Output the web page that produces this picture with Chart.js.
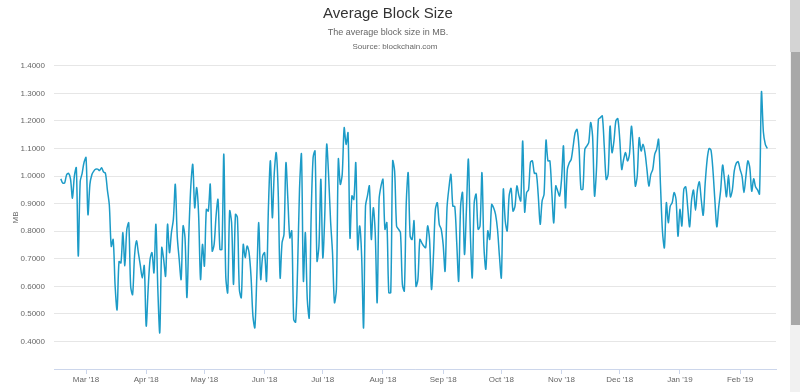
<!DOCTYPE html>
<html>
<head>
<meta charset="utf-8">
<title>Average Block Size</title>
<script src="https://cdn.jsdelivr.net/npm/chart.js@4.4.1/dist/chart.umd.min.js"></script>
<style>
  html, body { margin: 0; padding: 0; background: #fff; overflow: hidden; }
  #wrap { position: relative; width: 800px; height: 392px; }
  #chartBox { position: absolute; left: 0; top: 0; width: 790px; height: 392px; }
  #scrollTrack { position: absolute; left: 790px; top: 0; width: 10px; height: 392px; background: #f1f1f1; }
  #scrollTop { position: absolute; left: 0; top: 0; width: 10px; height: 52px; background: #d4d4d4; }
  #scrollThumb { position: absolute; left: 1px; top: 52px; width: 9px; height: 273px; background: #a8a8a8; }
</style>
</head>
<body>
<div id="wrap">
  <div id="chartBox"><canvas id="blockChart" width="790" height="392"></canvas></div>
  <div id="scrollTrack"><div id="scrollTop"></div><div id="scrollThumb"></div></div>
</div>
<script>
// daily values, first day 16 Feb 2018
const startDate = Date.UTC(2018, 1, 16);

const tickLabels = ["Mar '18", "Apr '18", "May '18", "Jun '18", "Jul '18", "Aug '18",
                    "Sep '18", "Oct '18", "Nov '18", "Dec '18", "Jan '19", "Feb '19"];

// average block size in MB
const avgBlockSize = [
  0.990, 0.975, 0.975, 1.005, 1.010, 0.990, 0.920, 1.000, 1.030, 0.710,
  0.980, 1.010, 1.050, 1.067, 0.860, 0.970, 1.005, 1.018, 1.025, 1.025,
  1.020, 1.030, 1.015, 1.010, 0.950, 0.895, 0.745, 0.770, 0.600, 0.515,
  0.690, 0.685, 0.795, 0.675, 0.805, 0.830, 0.600, 0.570, 0.710, 0.765,
  0.720, 0.675, 0.630, 0.675, 0.456, 0.589, 0.698, 0.722, 0.649, 0.825,
  0.589, 0.432, 0.740, 0.698, 0.637, 0.825, 0.722, 0.795, 0.843, 0.970,
  0.782, 0.698, 0.625, 0.819, 0.776, 0.559, 0.795, 0.964, 1.042, 0.885,
  0.958, 0.861, 0.625, 0.752, 0.674, 0.879, 0.873, 0.970, 0.728, 0.752,
  0.855, 0.915, 0.734, 0.734, 1.079, 0.637, 0.577, 0.873, 0.831, 0.607,
  0.861, 0.849, 0.589, 0.559, 0.752, 0.704, 0.746, 0.722, 0.637, 0.492,
  0.450, 0.637, 0.831, 0.625, 0.710, 0.722, 0.619, 0.891, 1.055, 0.849,
  1.012, 1.085, 0.946, 0.631, 0.758, 0.789, 1.048, 0.915, 0.776, 0.801,
  0.480, 0.470, 0.662, 0.952, 1.079, 0.619, 0.795, 0.553, 0.486, 0.855,
  1.067, 1.091, 0.692, 0.746, 0.988, 0.704, 0.855, 1.115, 1.000, 0.837,
  0.722, 0.541, 0.589, 1.061, 0.970, 1.006, 1.175, 1.115, 1.157, 0.776,
  0.928, 0.915, 1.048, 0.734, 0.819, 0.710, 0.450, 0.891, 0.928, 0.964,
  0.770, 0.885, 0.795, 0.541, 0.915, 0.964, 0.988, 0.807, 0.831, 0.577,
  0.577, 1.055, 1.018, 0.819, 0.807, 0.795, 0.607, 0.583, 0.903, 1.012,
  0.782, 0.770, 0.837, 0.600, 0.625, 0.770, 0.758, 0.746, 0.740, 0.819,
  0.770, 0.589, 0.710, 0.879, 0.903, 0.825, 0.807, 0.752, 0.655, 0.885,
  0.958, 1.006, 0.891, 0.889, 0.758, 0.619, 0.891, 0.940, 0.716, 0.879,
  1.061, 0.795, 0.631, 0.903, 0.934, 0.807, 0.819, 1.012, 0.746, 0.662,
  0.801, 0.770, 0.897, 0.885, 0.861, 0.807, 0.710, 0.631, 0.952, 0.837,
  0.801, 0.928, 0.955, 0.873, 0.890, 0.964, 0.930, 0.910, 1.127, 0.870,
  0.940, 0.950, 1.050, 1.055, 1.010, 1.010, 0.930, 0.825, 0.910, 0.934,
  1.130, 1.055, 1.055, 0.940, 0.830, 0.964, 0.946, 0.928, 0.988, 1.109,
  0.885, 1.024, 1.048, 1.061, 1.109, 1.157, 1.169, 1.103, 0.952, 0.952,
  1.097, 1.109, 1.121, 1.194, 1.145, 0.928, 1.024, 1.206, 1.212, 1.218,
  1.109, 0.988, 1.006, 1.181, 1.085, 1.127, 1.200, 1.208, 1.133, 1.024,
  1.061, 1.085, 1.055, 1.079, 1.181, 1.097, 0.964, 1.000, 1.139, 1.091,
  1.115, 1.085, 1.024, 0.964, 1.006, 1.024, 1.079, 1.097, 1.133, 0.964,
  0.800, 0.740, 0.903, 0.831, 0.891, 0.903, 0.940, 0.915, 0.782, 0.879,
  0.819, 0.952, 0.961, 0.888, 0.816, 0.913, 0.949, 0.876, 0.949, 0.979,
  0.913, 0.858, 0.973, 1.058, 1.100, 1.094, 1.022, 0.913, 0.816, 0.888,
  0.950, 1.040, 0.985, 0.925, 1.004, 0.925, 0.949, 1.019, 1.046, 1.052,
  1.024, 1.000, 0.940, 1.000, 1.055, 1.030, 0.945, 0.990, 0.960, 0.950,
  0.935, 1.305, 1.160, 1.115, 1.100
];

const fontFamily = "'Liberation Sans', Arial, sans-serif";

// first day of each month gets an x tick
const monthStarts = [];
avgBlockSize.forEach((_, i) => {
    const d = new Date(startDate + i * 86400000);
    if (d.getUTCDate() === 1) monthStarts.push(i);
});

const points = avgBlockSize.map((v, i) => ({ x: i, y: v }));

const sourceLine = {
    id: 'sourceLine',
    afterDraw(chart) {
        const c = chart.ctx;
        c.save();
        c.font = '8px ' + fontFamily;
        c.fillStyle = '#666666';
        c.textAlign = 'center';
        c.textBaseline = 'middle';
        c.fillText('Source: blockchain.com', chart.width / 2, 47);
        c.restore();
    }
};

const ctx = document.getElementById('blockChart').getContext('2d');
new Chart(ctx, {
    type: 'line',
    data: {
        datasets: [{
            label: 'Average Block Size',
            data: points,
            borderColor: '#1c9bc7',
            borderWidth: 1.5,
            pointRadius: 0,
            tension: 0.3,
            fill: false
        }]
    },
    options: {
        responsive: false,
        animation: false,
        layout: { padding: { left: 0, right: 14, top: 0, bottom: 0 } },
        plugins: {
            legend: { display: false },
            tooltip: { enabled: false },
            title: {
                display: true,
                text: 'Average Block Size',
                color: '#333333',
                font: { family: fontFamily, size: 15, weight: 'normal' },
                padding: { top: 5, bottom: 0 }
            },
            subtitle: {
                display: true,
                text: 'The average block size in MB.',
                color: '#666666',
                font: { family: fontFamily, size: 9 },
                padding: { top: 4, bottom: 28 }
            }
        },
        scales: {
            x: {
                type: 'linear',
                min: -3.5,
                max: 368.5,
                afterBuildTicks: function(scale) {
                    scale.ticks = monthStarts.map(v => ({ value: v }));
                },
                afterFit: function(scale) {
                    scale.height = 23;
                },
                ticks: {
                    autoSkip: false,
                    maxRotation: 0,
                    padding: 1,
                    color: '#666666',
                    font: { family: fontFamily, size: 8 },
                    callback: (value, index) => tickLabels[index]
                },
                grid: { drawOnChartArea: false, color: '#ccd6eb', tickLength: 5 },
                border: { color: '#ccd6eb' }
            },
            y: {
                min: 0.3,
                max: 1.4,
                afterFit: function(scale) {
                    scale.width = 54;
                },
                ticks: {
                    stepSize: 0.1,
                    padding: 9,
                    color: '#666666',
                    font: { family: fontFamily, size: 8 },
                    callback: v => v < 0.35 ? '' : v.toFixed(4)
                },
                grid: { color: '#e6e6e6', drawTicks: false },
                border: { display: false },
                title: {
                    display: true,
                    text: 'MB',
                    color: '#666666',
                    font: { family: fontFamily, size: 8 },
                    padding: { top: 11, bottom: 0 }
                }
            }
        }
    },
    plugins: [sourceLine]
});
</script>
</body>
</html>
